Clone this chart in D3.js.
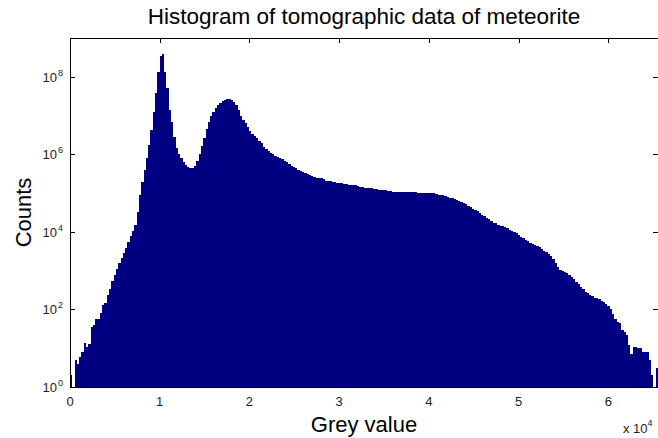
<!DOCTYPE html>
<html>
<head>
<meta charset="utf-8">
<script src="https://cdn.jsdelivr.net/npm/d3@7"></script>
<style>
  body { margin: 0; background: #fff; }
  text { font-family: "Liberation Sans", Arial, Helvetica, sans-serif; }
</style>
</head>
<body>
<div id="chart"></div>
<script>
// 灰度直方图：每个 bin 宽 256 个灰度值，共 256 个 bin
const binWidth = 256;
const counts = [
  2, 1, 5, 4, 6, 8, 14, 11, 13, 35, 40, 56, 58, 81, 130, 150,
  235, 340, 540, 780, 1100, 1600, 2100, 2900, 3800, 5500, 7800, 10500, 15000, 32000, 89000, 195000,
  4.0e5, 8.1e5, 1.7e6, 4.2e6, 1.2e7, 3.8e7, 1.3e8, 3.4e8, 3.9e8, 1.3e8, 5.1e7, 1.4e7, 6.8e6, 2.8e6, 1.45e6, 1.0e6,
  8.1e5, 6.3e5, 5.3e5, 4.7e5, 4.5e5, 4.5e5, 5.0e5, 6.7e5, 1.0e6, 1.6e6, 2.6e6, 4.5e6, 6.8e6, 9.7e6, 1.23e7, 1.55e7,
  1.86e7, 2.1e7, 2.4e7, 2.5e7, 2.7e7, 2.7e7, 2.5e7, 2.2e7, 1.86e7, 1.4e7, 1.0e7, 7.7e6, 6.4e6, 5.0e6, 4.0e6, 3.3e6,
  3.0e6, 2.6e6, 2.2e6, 1.95e6, 1.55e6, 1.38e6, 1.22e6, 1.08e6, 1.02e6, 9.1e5, 8.5e5, 8.1e5, 7.6e5, 6.7e5, 6.3e5, 5.6e5,
  5.0e5, 4.7e5, 4.5e5, 4.0e5, 3.7e5, 3.5e5, 3.3e5, 3.1e5, 2.9e5, 2.75e5, 2.6e5, 2.5e5, 2.45e5, 2.4e5, 2.25e5, 2.1e5,
  2.05e5, 2.0e5, 1.95e5, 1.88e5, 1.82e5, 1.82e5, 1.78e5, 1.72e5, 1.72e5, 1.66e5, 1.62e5, 1.62e5, 1.58e5, 1.52e5, 1.48e5, 1.44e5,
  1.38e5, 1.35e5, 1.35e5, 1.32e5, 1.28e5, 1.24e5, 1.2e5, 1.2e5, 1.17e5, 1.17e5, 1.13e5, 1.13e5, 1.1e5, 1.1e5, 1.07e5, 1.07e5,
  1.06e5, 1.06e5, 1.05e5, 1.05e5, 1.05e5, 1.04e5, 1.04e5, 1.03e5, 1.0e5, 1.0e5, 1.0e5, 1.0e5, 1.0e5, 9.8e4, 9.8e4, 9.5e4,
  9.2e4, 8.9e4, 8.7e4, 8.5e4, 7.9e4, 7.7e4, 7.5e4, 7.1e4, 6.6e4, 6.3e4, 5.9e4, 5.5e4, 5.1e4, 4.6e4, 4.4e4, 4.0e4,
  3.6e4, 3.4e4, 3.1e4, 2.75e4, 2.5e4, 2.3e4, 2.1e4, 1.9e4, 1.74e4, 1.65e4, 1.55e4, 1.45e4, 1.38e4, 1.3e4, 1.23e4, 1.15e4,
  1.05e4, 1.0e4, 9100, 8300, 7600, 6900, 6300, 5800, 5200, 4900, 4600, 4300, 4000, 3600, 3300, 3000,
  2700, 2400, 2000, 1600, 1240, 1040, 980, 930, 870, 770, 690, 600, 510, 455, 380, 340,
  280, 265, 235, 222, 200, 200, 186, 165, 155, 138, 123, 102, 76, 56, 48, 45,
  30, 26, 22, 12, 7, 11, 11, 10, 10, 8, 8, 8, 5, 2, 1, 3
];

// 刻度
const xTicks = [0, 10000, 20000, 30000, 40000, 50000, 60000];
const xTickLabels = ["0", "1", "2", "3", "4", "5", "6"];
const yTickExponents = [0, 2, 4, 6, 8];

const titleText = "Histogram of tomographic data of meteorite";
const xLabelText = "Grey value";
const yLabelText = "Counts";

// 基本配置
const margin = {top: 38, right: 0, bottom: 51, left: 70},
      width = 658 - margin.left - margin.right,
      height = 438 - margin.top - margin.bottom;

const svg = d3.select("#chart")
              .append("svg")
              .attr("width", 658)
              .attr("height", 438);

const g = svg.append("g")
             .attr("transform", `translate(${margin.left},${margin.top})`);

// 比例尺
const x = d3.scaleLinear()
            .domain([0, 65536])
            .range([0, width]);

const y = d3.scaleLog()
            .domain([1, 1e9])
            .range([height, 0]);

const bins = counts.map((c, i) => ({x0: i * binWidth, x1: (i + 1) * binWidth, count: c}));

// 刻度线（朝内），先画，柱子会盖住
const tickLen = 5;
g.selectAll(".xtick-top")
 .data(xTicks)
 .enter().append("line")
 .attr("x1", d => Math.round(x(d)) + 0.5)
 .attr("x2", d => Math.round(x(d)) + 0.5)
 .attr("y1", 0)
 .attr("y2", tickLen)
 .attr("stroke", "#000");

g.selectAll(".xtick-bottom")
 .data(xTicks)
 .enter().append("line")
 .attr("x1", d => Math.round(x(d)) + 0.5)
 .attr("x2", d => Math.round(x(d)) + 0.5)
 .attr("y1", height)
 .attr("y2", height - tickLen)
 .attr("stroke", "#000");

g.selectAll(".ytick-left")
 .data(yTickExponents)
 .enter().append("line")
 .attr("x1", 0)
 .attr("x2", tickLen)
 .attr("y1", d => Math.round(y(Math.pow(10, d))) + 0.5)
 .attr("y2", d => Math.round(y(Math.pow(10, d))) + 0.5)
 .attr("stroke", "#000");

g.selectAll(".ytick-right")
 .data(yTickExponents)
 .enter().append("line")
 .attr("x1", width)
 .attr("x2", width - tickLen)
 .attr("y1", d => Math.round(y(Math.pow(10, d))) + 0.5)
 .attr("y2", d => Math.round(y(Math.pow(10, d))) + 0.5)
 .attr("stroke", "#000");

// 直方图柱子
g.selectAll(".bar")
 .data(bins)
 .enter().append("rect")
 .attr("x", d => x(d.x0))
 .attr("width", d => x(d.x1) - x(d.x0))
 .attr("y", d => y(d.count))
 .attr("height", d => y(1) - y(d.count))
 .attr("fill", "#000080")
 .attr("shape-rendering", "crispEdges");

// 坐标框
g.append("path")
 .attr("d", `M0.5,0.5H${width}M0.5,0.5V${height + 0.5}H${width}`)
 .attr("fill", "none")
 .attr("stroke", "#000")
 .attr("stroke-width", 1);

// x 刻度标签
g.selectAll(".xlabel")
 .data(xTicks)
 .enter().append("text")
 .attr("x", d => x(d))
 .attr("y", height + 19)
 .attr("text-anchor", "middle")
 .attr("font-size", 13)
 .attr("fill", "#222")
 .text((d, i) => xTickLabels[i]);

// y 刻度标签 10^n
const yl = g.selectAll(".ylabel")
            .data(yTickExponents)
            .enter().append("text")
            .attr("x", -13)
            .attr("y", d => y(Math.pow(10, d)) + 5)
            .attr("text-anchor", "end")
            .attr("font-size", 13)
            .attr("fill", "#222");
yl.append("tspan").text("10");
yl.append("tspan")
  .attr("x", -12)
  .attr("dy", -6)
  .attr("text-anchor", "start")
  .attr("font-size", 9)
  .text(d => d);

// x 轴倍数
const mult = svg.append("text")
                .attr("x", 623)
                .attr("y", 433)
                .attr("font-size", 13)
                .attr("fill", "#222");
mult.append("tspan").text("x 10");
mult.append("tspan")
    .attr("dy", -7)
    .attr("font-size", 9)
    .text("4");

// 标题和轴标题
svg.append("text")
   .attr("x", margin.left + width / 2)
   .attr("y", 24)
   .attr("text-anchor", "middle")
   .attr("font-size", 22.5)
   .text(titleText);

svg.append("text")
   .attr("x", margin.left + width / 2)
   .attr("y", 432)
   .attr("text-anchor", "middle")
   .attr("font-size", 22)
   .text(xLabelText);

svg.append("text")
   .attr("transform", `translate(31,${margin.top + height / 2}) rotate(-90)`)
   .attr("text-anchor", "middle")
   .attr("font-size", 22)
   .text(yLabelText);
</script>
</body>
</html>
